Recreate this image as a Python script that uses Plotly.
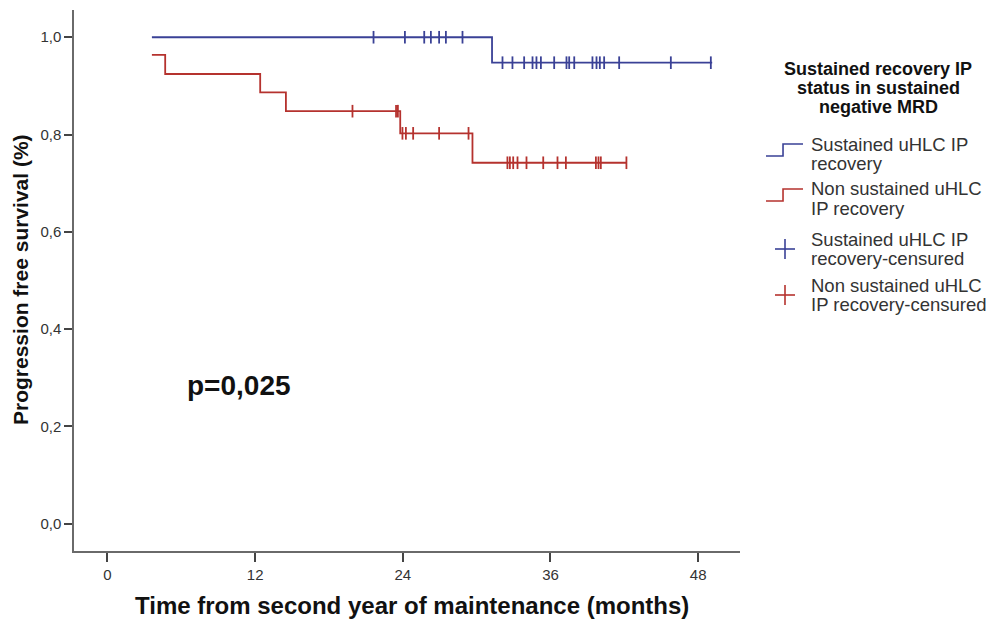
import plotly.graph_objects as go

# ---------------- data ----------------
blue_name = "Sustained uHLC IP recovery"
red_name = "Non sustained uHLC IP recovery"

blue_step_t = [3.61, 31.25, 49.14]          # start, drop times, end
blue_step_s = [1.0, 0.9477, 0.9477]
blue_cens_t = [21.62, 24.17, 25.74, 26.28, 26.95, 27.50, 28.85,
               32.10, 32.91, 33.86, 34.54, 34.86, 35.22, 36.30, 37.30, 37.52,
               37.93, 39.41, 39.74, 40.01, 40.36, 41.58, 45.78, 49.03]

red_step_t = [3.61, 4.69, 12.41, 14.50, 23.79, 29.66, 42.17]
red_step_s = [0.9636, 0.9245, 0.8868, 0.848, 0.8025, 0.742, 0.742]
red_cens_t = [19.91, 23.45, 23.60, 23.97, 24.25, 24.84, 26.95, 29.34,
              32.50, 32.70, 32.97, 33.32, 34.05, 35.41, 36.57, 37.25,
              39.69, 39.90, 40.09, 42.17]

x_ticks = [0, 12, 24, 36, 48]
y_ticks = [0.0, 0.2, 0.4, 0.6, 0.8, 1.0]
y_ticktext = ["0,0", "0,2", "0,4", "0,6", "0,8", "1,0"]

legend_title_lines = ["Sustained recovery IP", "status in sustained", "negative MRD"]
legend_label_lines = [["Sustained uHLC IP", "recovery"],
                      ["Non sustained uHLC", "IP recovery"],
                      ["Sustained uHLC IP", "recovery-censured"],
                      ["Non sustained uHLC", "IP recovery-censured"]]
p_text = "p=0,025"

BLUE = "#3a4196"
RED = "#b5322e"
AX = "#6a6a6a"
TXT = "#333333"


def surv_at(t, ts, ss):
    val = ss[0]
    for tt, s in zip(ts, ss):
        if t >= tt:
            val = s
    return val


fig = go.Figure()
for ts, ss, ct, col, nm in [(blue_step_t, blue_step_s, blue_cens_t, BLUE, blue_name),
                            (red_step_t, red_step_s, red_cens_t, RED, red_name)]:
    fig.add_trace(go.Scatter(x=ts, y=ss, mode="lines", line=dict(color=col, width=1.8, shape="hv"),
                             name=nm, showlegend=False, hoverinfo="skip"))
    fig.add_trace(go.Scatter(x=ct, y=[surv_at(t, ts, ss) for t in ct], mode="markers",
                             marker=dict(symbol="line-ns", size=9, line=dict(color=col, width=1.8)),
                             name=nm + "-censured", showlegend=False))

# ---------------- layout ----------------
ML, MR, MT, MB = 74, 266, 10, 68
W, H = 1006, 619
PW, PH = W - ML - MR, H - MT - MB


def px(xp):
    return (xp - ML) / PW


def py(yp):
    return (H - MB - yp) / PH


FONT = "Liberation Sans, Arial, sans-serif"

fig.update_layout(
    width=W, height=H, margin=dict(l=ML, r=MR, t=MT, b=MB),
    plot_bgcolor="white", paper_bgcolor="white",
    font=dict(family=FONT, size=15, color=TXT),
    xaxis=dict(range=[-2.72, 51.4], tickvals=x_ticks, ticks="outside", ticklen=9, tickwidth=2,
               tickcolor="#444", showline=True, linecolor=AX, linewidth=1.5, showgrid=False,
               zeroline=False, tickfont=dict(size=15, color=TXT)),
    yaxis=dict(range=[-0.056, 1.056], tickvals=y_ticks, ticktext=y_ticktext, ticks="outside",
               ticklen=8, tickwidth=1.5, tickcolor="#444", showline=True, linecolor=AX,
               linewidth=1.5, showgrid=False, zeroline=False, tickfont=dict(size=15, color=TXT)),
    showlegend=False,
)

ann = []
ann.append(dict(x=px(412), y=py(605), xref="paper", yref="paper",
                text="<b>Time from second year of maintenance (months)</b>",
                showarrow=False, font=dict(size=24, color="#111", family=FONT), xanchor="center", yanchor="middle"))
ann.append(dict(x=px(20), y=py(280), xref="paper", yref="paper", text="<b>Progression free survival (%)</b>",
                showarrow=False, textangle=-90, font=dict(size=21, color="#111", family=FONT),
                xanchor="center", yanchor="middle"))
ann.append(dict(x=px(239), y=py(385), xref="paper", yref="paper", text="<b>" + p_text + "</b>",
                showarrow=False, font=dict(size=28, color="#111", family=FONT), xanchor="center", yanchor="middle"))
for line, yy in zip(legend_title_lines, [69, 88, 107]):
    ann.append(dict(x=px(878), y=py(yy), xref="paper", yref="paper", text="<b>" + line + "</b>",
                    showarrow=False, font=dict(size=18, color="#111", family=FONT),
                    xanchor="center", yanchor="middle"))
item_y = [144, 189, 239, 285]
for lines, yy in zip(legend_label_lines, item_y):
    for k, line in enumerate(lines):
        ann.append(dict(x=px(809), y=py(yy + 19.5 * k), xref="paper", yref="paper", text=line, showarrow=False,
                        font=dict(size=18.5, color=TXT, family=FONT), xanchor="left", yanchor="middle"))
fig.update_layout(annotations=ann)

shapes = []
for col, yy in [(BLUE, item_y[0]), (RED, item_y[1])]:
    ylo, yhi = yy + 12, yy
    path = "M {:.4f},{:.4f} L {:.4f},{:.4f} L {:.4f},{:.4f} L {:.4f},{:.4f}".format(
        px(766), py(ylo), px(783), py(ylo), px(783), py(yhi), px(803), py(yhi))
    shapes.append(dict(type="path", path=path, xref="paper", yref="paper", line=dict(color=col, width=1.6)))
for col, yy in [(BLUE, item_y[2]), (RED, item_y[3])]:
    cy = yy + 10
    shapes.append(dict(type="line", xref="paper", yref="paper", x0=px(775), x1=px(795), y0=py(cy), y1=py(cy),
                       line=dict(color=col, width=1.6)))
    shapes.append(dict(type="line", xref="paper", yref="paper", x0=px(785), x1=px(785),
                       y0=py(cy - 10), y1=py(cy + 10), line=dict(color=col, width=1.6)))
fig.update_layout(shapes=shapes)

fig.write_html("out.html", config={"displayModeBar": False},
               post_script="document.body.style.margin='0';document.body.style.overflow='hidden';")
